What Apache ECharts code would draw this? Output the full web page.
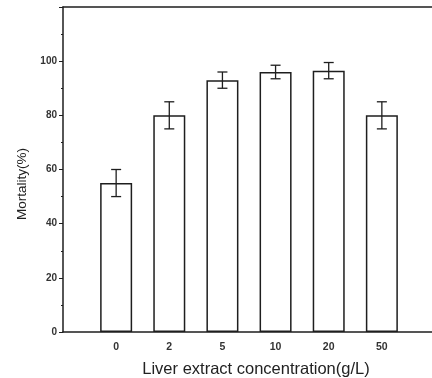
<!DOCTYPE html>
<html>
<head>
<meta charset="utf-8">
<script src="https://cdn.jsdelivr.net/npm/echarts@6/dist/echarts.min.js"></script>
<style>
  html, body { margin: 0; padding: 0; background: #fff; }
  #chart { width: 432px; height: 378px; }
</style>
</head>
<body>
<div id="chart"></div>
<script>
    'use strict';
    // concentrations (g/L) and mortality (%) with error (+/-)
    var categories = ['0', '2', '5', '10', '20', '50'];
    var mortality = [55, 80, 93, 96, 96.5, 80];
    var errors = [5, 5, 3, 2.5, 3, 5];

    // pad with empty slots so the bars sit half a gap from the frame
    var axisData = [''].concat(categories).concat(['']);
    var barData = [null].concat(mortality).concat([null]);
    var errData = [];
    for (var i = 0; i < mortality.length; i++) {
        errData.push([i + 1, mortality[i] - errors[i], mortality[i] + errors[i]]);
    }

    var lineColor = '#1e1e1e';
    var textColor = '#333';

    var myChart = echarts.init(document.getElementById('chart'));
    var option = {
        backgroundColor: '#fff',
        animation: false,
        grid: { left: 63, top: 7, width: 372, bottom: 46, outerBoundsMode: 'none', containLabel: false },
        xAxis: [{
            type: 'category',
            data: axisData,
            boundaryGap: false,
            axisLine: { lineStyle: { color: lineColor, width: 1.5 } },
            axisTick: { show: false },
            axisLabel: { color: textColor, fontSize: 10.5, fontWeight: 'bold', margin: 10, fontFamily: 'Liberation Sans' },
            name: 'Liver extract concentration(g/L)',
            nameLocation: 'middle',
            nameGap: 29,
            nameTextStyle: { color: '#222', fontSize: 16.5, fontFamily: 'Liberation Sans', padding: [0, 0, 0, 14] }
        }, {
            type: 'category',
            position: 'top',
            data: axisData,
            boundaryGap: false,
            axisLine: { lineStyle: { color: lineColor, width: 1.5 } },
            axisTick: { show: false },
            axisLabel: { show: false }
        }],
        yAxis: {
            type: 'value',
            min: 0,
            max: 120,
            interval: 20,
            axisLine: { show: true, lineStyle: { color: lineColor, width: 1.5 } },
            axisTick: { show: true, length: 4, lineStyle: { color: lineColor } },
            minorTick: { show: true, splitNumber: 2, length: 2, lineStyle: { color: lineColor } },
            splitLine: { show: false },
            axisLabel: {
                color: textColor, fontSize: 10, fontWeight: 'bold', margin: 6, fontFamily: 'Liberation Sans',
                formatter: function (v) { return v === 120 ? '' : v; }
            }
        },
        graphic: [{
            type: 'text',
            x: 22,
            y: 184,
            rotation: Math.PI / 2,
            style: {
                text: 'Mortality(%)',
                fill: '#222',
                fontSize: 13.5,
                fontFamily: 'Liberation Sans',
                align: 'center',
                verticalAlign: 'middle'
            }
        }],
        series: [{
            type: 'bar',
            data: barData,
            barWidth: 32,
            itemStyle: { color: '#fff', borderColor: lineColor, borderWidth: 1.5 }
        }, {
            type: 'custom',
            data: errData,
            z: 5,
            renderItem: function (params, api) {
                var x = api.value(0);
                var lo = api.coord([x, api.value(1)]);
                var hi = api.coord([x, api.value(2)]);
                var cap = 5;
                var st = { stroke: lineColor, lineWidth: 1.3, fill: null };
                return {
                    type: 'group',
                    children: [
                        { type: 'line', shape: { x1: lo[0], y1: lo[1], x2: hi[0], y2: hi[1] }, style: st },
                        { type: 'line', shape: { x1: hi[0] - cap, y1: hi[1], x2: hi[0] + cap, y2: hi[1] }, style: st },
                        { type: 'line', shape: { x1: lo[0] - cap, y1: lo[1], x2: lo[0] + cap, y2: lo[1] }, style: st }
                    ]
                };
            }
        }]
    };
    myChart.setOption(option);
</script>
</body>
</html>
